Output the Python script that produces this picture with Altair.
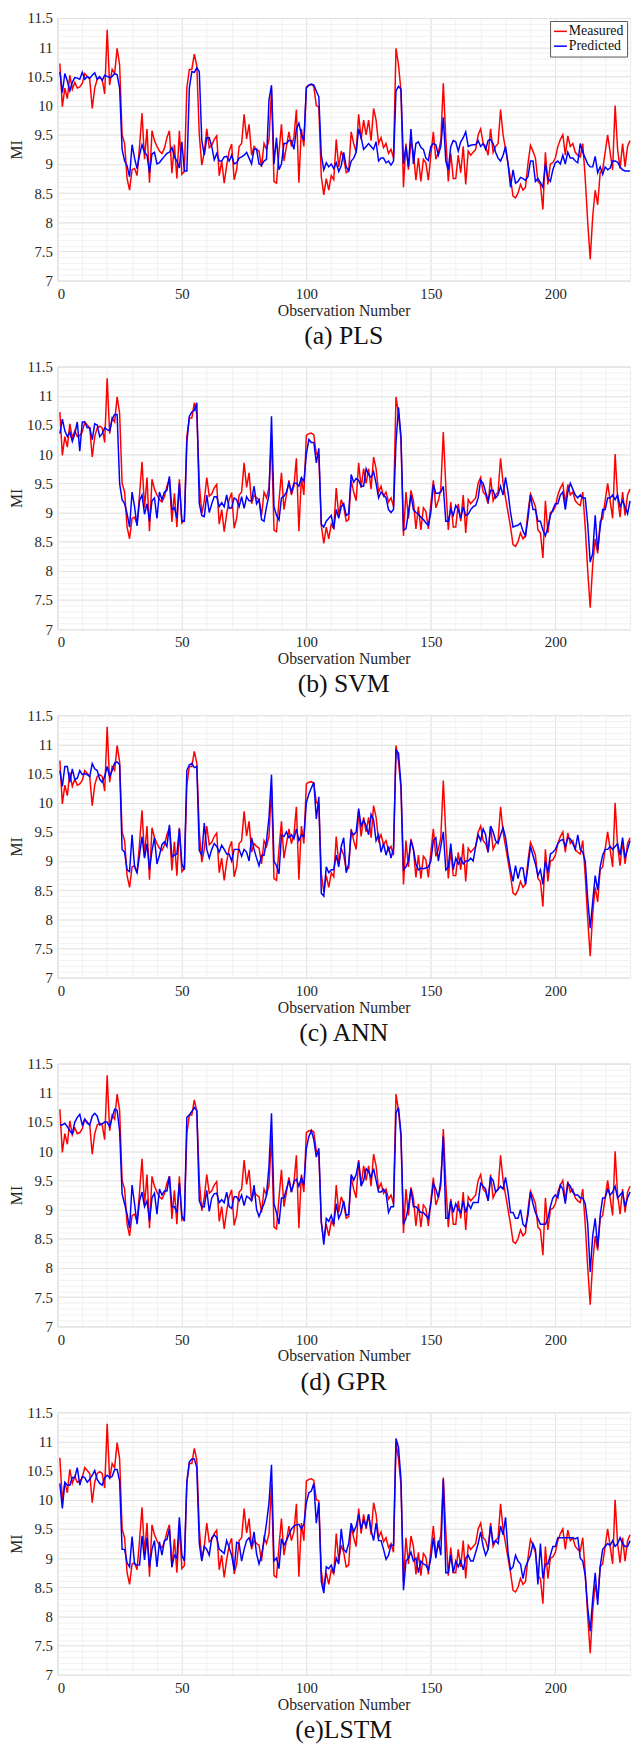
import altair as alt
import pandas as pd

obs = list(range(1, 231))

measured = [
    10.72, 9.98, 10.30, 10.12, 10.52, 10.28, 10.40, 10.30, 10.32, 10.38,
    10.55, 10.50, 10.45, 9.95, 10.30, 10.45, 10.48, 10.45, 10.20, 11.30,
    10.35, 10.62, 10.55, 10.98, 10.70, 9.50, 9.35, 8.75, 8.55, 8.90,
    8.92, 8.80, 9.30, 9.87, 9.08, 9.60, 8.68, 9.57, 9.40, 9.30,
    9.22, 9.18, 9.27, 9.45, 9.57, 8.84, 9.33, 8.75, 9.57, 8.82,
    8.87, 10.30, 10.62, 10.62, 10.88, 10.68, 9.50, 8.98, 9.20, 9.60,
    9.28, 9.32, 9.42, 9.48, 8.80, 9.05, 8.67, 8.98, 9.22, 9.34,
    8.73, 8.90, 9.30, 9.35, 9.85, 9.43, 9.68, 9.15, 9.30, 9.25,
    9.22, 8.95, 9.35, 9.25, 9.42, 10.27, 8.70, 8.67, 9.20, 9.68,
    9.05, 9.30, 9.55, 9.30, 9.45, 9.93, 8.68, 9.60, 9.30, 10.32,
    10.35, 10.36, 10.33, 10.00, 9.98, 8.78, 8.47, 8.75, 8.55, 8.80,
    8.73, 9.42, 8.95, 9.22, 9.10, 8.85, 8.88, 9.55, 9.35, 9.20,
    9.85, 9.42, 9.75, 9.50, 9.75, 9.40, 9.95, 9.75, 9.35, 9.45,
    9.28, 9.35, 9.18, 9.25, 9.10, 10.98, 10.70, 10.25, 8.60, 9.35,
    8.90, 9.38, 9.20, 8.72, 9.10, 8.70, 9.08, 9.02, 8.72, 9.15,
    9.55, 9.08, 9.20, 9.40, 10.38, 9.45, 8.70, 9.18, 8.75, 8.75,
    9.15, 8.85, 9.30, 8.65, 9.22, 9.15, 9.20, 9.25, 9.50, 9.60,
    9.35, 9.30, 9.15, 9.60, 9.20, 9.30, 9.35, 9.93, 9.50, 9.25,
    9.00, 8.75, 8.45, 8.42, 8.50, 8.65, 8.55, 8.60, 9.00, 9.32,
    9.22, 9.10, 8.70, 8.65, 8.22, 9.20, 8.65, 9.00, 9.02, 9.10,
    9.30, 9.42, 9.50, 9.15, 9.48, 9.30, 9.35, 9.20, 9.15, 9.12,
    9.35, 8.75, 8.00, 7.37, 8.10, 8.55, 8.30, 8.85, 8.90, 9.20,
    9.50, 9.20, 8.90, 10.00, 9.25, 8.92, 9.35, 8.95, 9.30, 9.40,
]

pred_pls = [
    10.58, 10.22, 10.55, 10.42, 10.25, 10.40, 10.48, 10.47, 10.45, 10.57,
    10.45, 10.50, 10.47, 10.52, 10.56, 10.45, 10.50, 10.43, 10.52, 10.50,
    10.48, 10.50, 10.55, 10.53, 10.30, 9.25, 9.05, 8.97, 8.78, 9.33,
    9.10, 8.92, 9.15, 9.33, 9.20, 9.15, 8.85, 9.17, 9.20, 9.00,
    9.02, 9.08, 9.13, 9.18, 9.20, 9.28, 9.12, 9.05, 8.93, 9.38,
    8.88, 8.88, 10.30, 10.58, 10.57, 10.65, 10.58, 9.40, 9.15, 9.45,
    9.45, 9.30, 9.07, 9.18, 9.05, 9.05, 9.12, 9.13, 9.05, 9.15,
    9.00, 9.02, 9.10, 9.12, 9.15, 9.20, 9.10, 9.00, 9.25, 9.25,
    9.00, 8.98, 9.05, 9.08, 10.10, 10.35, 9.00, 9.45, 8.90, 9.00,
    9.35, 9.35, 9.40, 9.40, 9.25, 9.60, 9.70, 9.50, 9.40, 10.30,
    10.35, 10.37, 10.35, 10.25, 10.15, 9.15, 8.90, 9.02, 8.95, 9.00,
    8.92, 9.02, 8.87, 8.97, 9.20, 8.95, 8.88, 9.05, 9.10, 9.20,
    9.60, 9.45, 9.25, 9.30, 9.35, 9.30, 9.25, 9.38, 9.05, 9.10,
    9.10, 9.02, 9.05, 8.98, 9.05, 10.25, 10.33, 10.28, 9.00, 9.30,
    8.95, 9.60, 9.00, 9.35, 9.38, 9.28, 9.25, 9.10, 9.06, 9.30,
    9.35, 9.33, 9.15, 9.30, 9.80, 9.05, 8.90, 9.30, 9.40, 9.38,
    9.22, 9.38, 9.45, 9.55, 9.30, 9.32, 9.33, 9.33, 9.40, 9.30,
    9.35, 9.25, 9.40, 9.42, 9.35, 9.20, 9.10, 9.05, 9.15, 9.30,
    9.00, 8.60, 8.90, 8.67, 8.70, 8.77, 8.75, 8.72, 8.78, 9.05,
    9.05, 8.70, 8.75, 8.68, 8.60, 9.00, 8.75, 8.70, 8.90, 9.02,
    9.05, 9.00, 9.15, 9.00, 9.20, 9.10, 9.10, 9.05, 9.02, 9.35,
    9.20, 9.10, 9.00, 8.95, 8.95, 9.13, 8.85, 8.95, 8.82, 8.95,
    8.90, 8.93, 9.05, 9.05, 9.03, 8.95, 8.90, 8.88, 8.88, 8.88,
]

pred_svm = [
    10.35, 10.60, 10.40, 10.30, 10.38, 10.22, 10.35, 10.55, 10.05, 10.55,
    10.55, 10.45, 10.45, 10.25, 10.52, 10.50, 10.30, 10.35, 10.45, 10.42,
    10.40, 10.60, 10.68, 10.68, 9.50, 9.22, 9.15, 8.98, 8.75, 9.35,
    9.10, 8.77, 9.20, 9.30, 8.97, 9.15, 8.85, 9.20, 9.25, 8.90,
    9.35, 9.22, 9.35, 9.38, 9.62, 9.05, 9.08, 8.90, 9.50, 8.85,
    8.85, 10.20, 10.65, 10.72, 10.75, 10.88, 9.15, 8.95, 8.93, 9.30,
    9.00, 9.15, 9.27, 9.27, 9.10, 9.17, 9.10, 9.30, 9.07, 9.08,
    9.25, 9.22, 9.10, 9.27, 9.07, 9.27, 9.20, 9.20, 9.45, 9.15,
    9.22, 8.88, 8.85, 9.10, 9.30, 10.65, 9.10, 8.95, 8.87, 9.25,
    9.28, 9.35, 9.50, 9.35, 9.50, 9.50, 9.45, 9.60, 9.53, 10.00,
    10.25, 10.20, 10.20, 9.85, 10.10, 8.80, 8.75, 8.85, 8.90, 8.95,
    8.72, 9.05, 8.90, 9.10, 9.15, 8.95, 8.98, 9.65, 9.52, 9.58,
    9.55, 9.45, 9.45, 9.75, 9.65, 9.60, 9.70, 9.50, 9.25, 9.35,
    9.30, 9.25, 9.05, 9.00, 9.05, 10.20, 10.80, 10.30, 8.70, 8.72,
    9.00, 9.30, 9.05, 9.00, 8.97, 8.92, 8.88, 8.82, 8.78, 9.00,
    9.48, 9.33, 9.33, 9.35, 9.45, 8.85, 8.85, 9.05, 8.95, 9.12,
    9.05, 8.90, 9.10, 8.95, 8.97, 9.05, 9.10, 9.12, 9.25, 9.55,
    9.50, 9.35, 9.20, 9.38, 9.38, 9.25, 9.30, 9.45, 9.30, 9.60,
    9.35, 9.00, 8.75, 8.77, 8.78, 8.82, 8.68, 8.60, 8.90, 9.30,
    9.05, 9.05, 8.85, 8.85, 8.70, 8.60, 8.75, 8.95, 9.05, 9.15,
    9.15, 9.30, 9.35, 9.05, 9.35, 9.50, 9.40, 9.30, 9.25, 9.30,
    9.25, 9.25, 8.80, 8.15, 8.30, 8.95, 8.35, 8.75, 9.05, 9.05,
    9.25, 9.25, 9.30, 9.22, 9.30, 9.10, 9.20, 9.10, 8.98, 9.20,
]

pred_ann = [
    10.55, 10.28, 10.62, 10.62, 10.35, 10.58, 10.40, 10.42, 10.55, 10.48,
    10.50, 10.48, 10.45, 10.67, 10.58, 10.55, 10.40, 10.35, 10.45, 10.62,
    10.45, 10.55, 10.68, 10.70, 10.65, 9.20, 9.15, 8.85, 8.82, 9.45,
    8.90, 8.80, 9.10, 9.42, 9.05, 9.30, 8.85, 9.18, 9.40, 8.95,
    9.10, 9.28, 9.33, 9.25, 9.62, 9.07, 9.10, 9.12, 9.55, 8.95,
    8.85, 10.55, 10.65, 10.67, 10.60, 10.62, 9.18, 9.10, 9.65, 9.20,
    9.05, 9.20, 9.30, 9.25, 9.15, 9.27, 9.20, 9.12, 9.12, 9.00,
    9.20, 9.20, 9.20, 9.08, 9.20, 9.15, 9.00, 9.40, 9.20, 9.05,
    8.92, 9.10, 9.10, 9.35, 9.75, 10.48, 9.00, 8.92, 8.78, 9.45,
    9.42, 9.50, 9.40, 9.45, 9.38, 9.55, 9.35, 9.45, 9.42, 10.00,
    10.15, 10.25, 10.35, 9.72, 10.10, 8.45, 8.40, 8.90, 8.80, 8.85,
    8.85, 9.10, 8.90, 9.25, 9.40, 8.80, 8.95, 9.50, 9.45, 9.50,
    9.90, 9.60, 9.70, 9.60, 9.45, 9.80, 9.70, 9.35, 9.45, 9.15,
    9.30, 9.10, 9.25, 9.05, 9.22, 10.90, 10.85, 10.30, 8.85, 8.90,
    9.00, 9.35, 9.20, 8.95, 8.85, 8.88, 8.87, 8.88, 8.90, 9.00,
    9.35, 9.40, 9.00, 9.25, 9.50, 8.85, 8.90, 9.30, 8.85, 9.05,
    8.95, 9.05, 8.95, 9.00, 9.00, 9.05, 9.00, 9.25, 9.45, 9.35,
    9.55, 9.45, 9.15, 9.60, 9.50, 9.35, 9.30, 9.45, 9.57, 9.40,
    9.10, 8.85, 8.65, 8.92, 8.70, 8.88, 8.88, 8.60, 8.90, 9.25,
    9.10, 8.95, 8.75, 8.85, 8.60, 9.00, 8.80, 9.12, 9.15, 9.20,
    9.30, 9.35, 9.37, 9.25, 9.40, 9.38, 9.30, 9.20, 9.45, 9.20,
    9.15, 9.00, 8.35, 7.85, 8.30, 8.75, 8.50, 8.90, 9.10, 9.20,
    9.20, 9.25, 9.20, 9.25, 9.30, 9.10, 9.40, 9.05, 9.20, 9.35,
]

pred_gpr = [
    10.45, 10.45, 10.48, 10.42, 10.35, 10.30, 10.50, 10.58, 10.63, 10.45,
    10.55, 10.48, 10.45, 10.60, 10.65, 10.60, 10.45, 10.47, 10.50, 10.50,
    10.42, 10.58, 10.72, 10.70, 10.35, 9.27, 9.10, 8.92, 8.68, 9.42,
    9.10, 8.75, 9.15, 9.30, 9.05, 9.15, 8.80, 9.20, 9.28, 8.92,
    9.35, 9.25, 9.32, 9.32, 9.57, 9.05, 9.05, 8.95, 9.45, 8.90,
    8.80, 10.58, 10.62, 10.68, 10.75, 10.70, 9.15, 9.05, 9.05, 9.33,
    8.97, 9.20, 9.27, 9.28, 9.12, 9.17, 9.12, 9.30, 9.05, 9.02,
    9.22, 9.22, 9.15, 9.25, 9.07, 9.23, 9.20, 9.15, 9.42, 9.00,
    8.88, 9.00, 9.10, 9.25, 9.75, 10.65, 9.10, 8.95, 8.75, 9.20,
    9.20, 9.35, 9.50, 9.30, 9.48, 9.52, 9.40, 9.55, 9.42, 10.05,
    10.25, 10.35, 10.20, 9.90, 10.05, 8.80, 8.40, 8.85, 8.80, 8.90,
    8.75, 9.10, 8.85, 8.95, 9.15, 8.90, 8.92, 9.60, 9.50, 9.60,
    9.82, 9.40, 9.50, 9.70, 9.65, 9.55, 9.70, 9.50, 9.30, 9.30,
    9.35, 9.28, 8.95, 9.05, 9.05, 10.65, 10.75, 10.30, 8.75, 8.85,
    9.05, 9.35, 9.05, 9.05, 9.00, 8.95, 8.95, 8.90, 8.85, 9.10,
    9.45, 9.35, 9.20, 9.50, 10.25, 8.85, 8.85, 9.15, 8.95, 9.10,
    9.00, 8.95, 9.15, 8.95, 9.10, 9.02, 9.12, 9.12, 9.12, 9.45,
    9.40, 9.35, 9.15, 9.55, 9.50, 9.30, 9.35, 9.40, 9.35, 9.55,
    9.30, 8.95, 8.95, 8.85, 8.85, 9.00, 8.75, 8.70, 8.90, 9.30,
    9.10, 8.95, 8.85, 8.75, 8.75, 8.75, 8.85, 9.05, 9.20, 9.25,
    9.20, 9.42, 9.35, 9.10, 9.45, 9.40, 9.30, 9.25, 9.25, 9.20,
    9.20, 9.10, 8.75, 7.93, 8.55, 8.85, 8.35, 8.90, 9.20, 9.20,
    9.35, 9.25, 9.30, 9.40, 9.20, 9.25, 9.30, 9.05, 9.20, 9.30,
]

pred_lstm = [
    10.28, 9.85, 10.30, 10.25, 10.25, 10.38, 10.38, 10.55, 10.25, 10.40,
    10.38, 10.30, 10.35, 10.42, 10.50, 10.35, 10.28, 10.25, 10.38, 10.42,
    10.38, 10.40, 10.52, 10.52, 10.32, 9.15, 9.15, 8.92, 8.85, 9.37,
    8.90, 8.88, 8.88, 9.38, 8.97, 9.35, 8.85, 9.15, 9.30, 8.85,
    9.28, 9.05, 9.30, 9.32, 9.50, 8.85, 9.05, 9.00, 9.70, 9.05,
    8.95, 10.30, 10.65, 10.70, 10.70, 10.55, 9.25, 8.95, 9.20, 9.15,
    9.05, 9.35, 9.40, 9.35, 9.15, 9.12, 9.08, 9.30, 9.18, 9.05,
    8.80, 9.27, 9.25, 8.95, 9.15, 9.30, 9.35, 9.20, 9.45, 9.07,
    8.90, 9.05, 9.30, 9.60, 9.95, 10.60, 8.95, 9.00, 8.82, 9.33,
    9.22, 9.30, 9.40, 9.50, 9.55, 9.57, 9.58, 9.50, 9.58, 9.95,
    10.12, 10.15, 10.28, 9.60, 9.95, 8.60, 8.40, 8.85, 8.82, 8.88,
    8.75, 9.00, 8.90, 9.50, 9.15, 9.10, 9.25, 9.60, 9.45, 9.55,
    9.75, 9.50, 9.65, 9.55, 9.75, 9.48, 9.30, 9.60, 9.30, 9.30,
    9.15, 8.98, 9.05, 9.22, 9.22, 11.05, 10.90, 10.35, 8.45, 8.95,
    9.00, 9.10, 8.95, 9.00, 8.75, 8.95, 8.90, 8.88, 8.80, 9.00,
    9.35, 9.00, 9.30, 9.05, 10.35, 8.75, 8.75, 9.05, 8.75, 8.95,
    8.85, 8.95, 8.80, 9.00, 9.05, 8.95, 8.95, 9.10, 9.25, 9.45,
    9.20, 9.05, 9.15, 9.55, 9.25, 9.30, 9.25, 9.55, 9.40, 9.70,
    9.10, 8.80, 8.85, 9.05, 8.95, 8.90, 8.65, 8.85, 8.95, 9.05,
    9.25, 9.15, 8.55, 9.25, 8.65, 8.90, 8.90, 9.05, 9.20, 9.20,
    9.35, 9.35, 9.35, 9.35, 9.35, 9.35, 9.35, 9.33, 9.35, 9.00,
    8.95, 8.70, 8.15, 7.75, 8.30, 8.75, 8.20, 8.85, 9.15, 9.20,
    9.25, 9.22, 9.30, 9.20, 9.25, 9.35, 9.25, 9.20, 9.20, 9.30,
]

captions = ["(a) PLS", "(b) SVM", "(c) ANN", "(d) GPR", "(e)LSTM"]
predictions = [pred_pls, pred_svm, pred_ann, pred_gpr, pred_lstm]
series_names = ["Measured", "Predicted"]
series_colors = ["#ff0000", "#0000ff"]

x_major = [0, 50, 100, 150, 200]
x_minor = list(range(0, 231, 10))
y_major = [7, 7.5, 8, 8.5, 9, 9.5, 10, 10.5, 11, 11.5]
y_minor = [round(7 + 0.1 * i, 1) for i in range(46)]

FONT = "Liberation Serif"
W, H = 580, 266

xs = alt.Scale(domain=[0, 230], nice=False, zero=False)
ys = alt.Scale(domain=[7, 11.5], nice=False, zero=False)


def panel(pred, caption):
    df = pd.DataFrame({
        "obs": obs + obs,
        "value": measured + pred,
        "series": [series_names[0]] * len(obs) + [series_names[1]] * len(obs),
    })
    base = alt.Chart(df)
    minor = base.mark_line(opacity=0).encode(
        x=alt.X("obs:Q", scale=xs, axis=alt.Axis(
            values=x_minor, grid=True, gridColor="#f1f1f1", labels=False,
            ticks=False, domain=False, title=None, orient="bottom")),
        y=alt.Y("value:Q", scale=ys, axis=alt.Axis(
            values=y_minor, grid=True, gridColor="#f1f1f1", labels=False,
            ticks=False, domain=False, title=None, orient="left")),
    )
    major = base.mark_line(strokeWidth=1.5).encode(
        x=alt.X("obs:Q", scale=xs, axis=alt.Axis(
            values=x_major, grid=True, gridColor="#e3e3e3", ticks=False,
            domain=False, title="Observation Number", labelPadding=6,
            titlePadding=1, orient="bottom")),
        y=alt.Y("value:Q", scale=ys, axis=alt.Axis(
            values=y_major, grid=True, gridColor="#e3e3e3", ticks=False,
            domain=False, title="MI", labelPadding=5, titlePadding=2,
            labelExpr="'' + datum.value", orient="left")),
        color=alt.Color("series:N", scale=alt.Scale(domain=series_names, range=series_colors),
                        legend=alt.Legend(title=None, orient="top-right", offset=3,
                                          fillColor="white", strokeColor="#555555",
                                          padding=3, labelFontSize=14, labelFont=FONT,
                                          labelColor="#111111",
                                          symbolType="stroke", symbolStrokeWidth=1.5,
                                          symbolSize=170, rowPadding=0, labelOffset=1,
                                          cornerRadius=0)),
    )
    return alt.layer(minor, major).resolve_axis(x="independent", y="independent").properties(
        width=W, height=H,
        title=alt.TitleParams(caption, orient="bottom", fontSize=26, font=FONT,
                              fontWeight="normal", color="#111111", offset=5),
    )


chart = alt.vconcat(*[panel(p, c) for p, c in zip(predictions, captions)], spacing=9).properties(
    padding={"top": -9, "left": 0, "right": 0, "bottom": 0}
).configure_view(stroke="#c8c8c8", strokeWidth=1).configure_axis(
    labelFont=FONT, titleFont=FONT, labelFontSize=15, titleFontSize=16,
    labelColor="#262626", titleColor="#262626", titleFontWeight="normal",
)

chart.save("out.html", embed_options={"renderer": "svg", "actions": False})
